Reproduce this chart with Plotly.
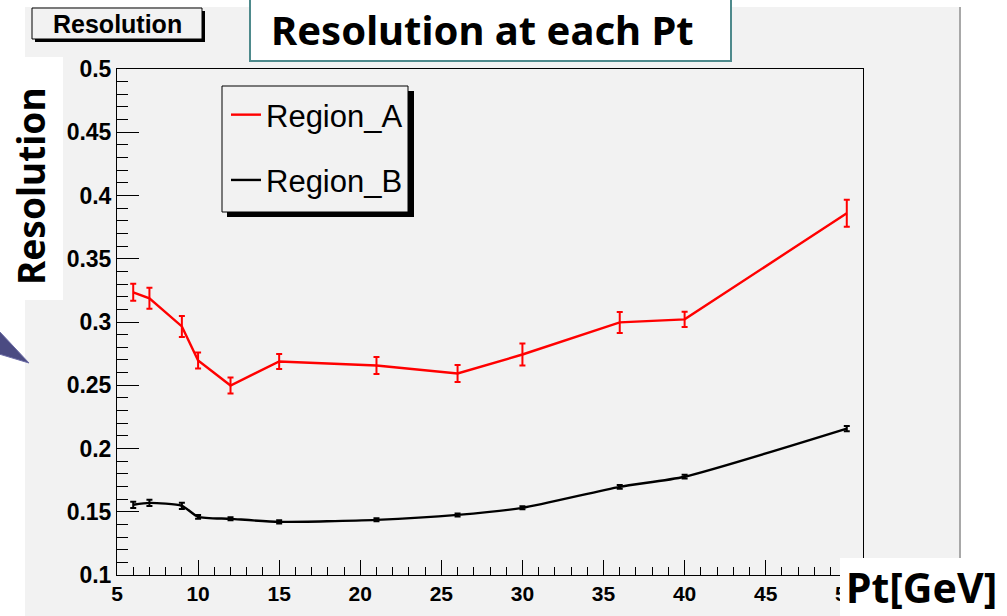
import plotly.graph_objects as go

# Pt bin centres [GeV]
pt = [6, 7, 9, 10, 12, 15, 21, 26, 30, 36, 40, 50]

# Region A resolution and its uncertainty
res_a = [0.3235, 0.3187, 0.2965, 0.2696, 0.2498, 0.2688, 0.2656, 0.2593, 0.2743, 0.2997, 0.3021, 0.3860]
err_a = [0.0067, 0.0083, 0.0083, 0.0063, 0.0063, 0.0060, 0.0067, 0.0067, 0.0087, 0.0083, 0.0060, 0.0107]

# Region B resolution and its uncertainty
res_b = [0.1555, 0.1570, 0.1547, 0.1460, 0.1444, 0.1420, 0.1436, 0.1475, 0.1531, 0.1697, 0.1777, 0.2157]
err_b = [0.0025, 0.0025, 0.0025, 0.0015, 0.0012, 0.0012, 0.0012, 0.0012, 0.0012, 0.0015, 0.0015, 0.0020]

# Axis ticks
x_ticks = [5, 10, 15, 20, 25, 30, 35, 40, 45, 50]
x_labels = ["5", "10", "15", "20", "25", "30", "35", "40", "45", "50"]
y_ticks = [0.1, 0.15, 0.2, 0.25, 0.3, 0.35, 0.4, 0.45, 0.5]
y_labels = ["0.1", "0.15", "0.2", "0.25", "0.3", "0.35", "0.4", "0.45", "0.5"]

W, H = 1007, 616
L, R, T, B = 117, 863, 69, 575          # frame edges in pixels


def fx(p):
    return (p - L) / (R - L)


def fy(p):
    return (B - p) / (B - T)


CANVAS = "#f2f2f2"
ROOT_FONT = "Liberation Sans, Arial, sans-serif"
SLIDE_FONT = "Noto Sans, Open Sans, sans-serif"

fig = go.Figure()

fig.add_trace(go.Scatter(
    x=pt, y=res_a, mode="lines", name="Region_A",
    line=dict(color="#ff0000", width=2.4),
    error_y=dict(type="data", array=err_a, color="#ff0000", thickness=2, width=3),
    legendgroup="a",
))
fig.add_trace(go.Scatter(
    x=pt, y=res_b, mode="lines", name="Region_B",
    line=dict(color="#000000", width=2.4, shape="spline", smoothing=0.6),
    error_y=dict(type="data", array=err_b, color="#000000", thickness=2, width=3),
    legendgroup="b",
))


def rect(x0, y0, x1, y1, fill, line=None, layer="above"):
    return dict(type="rect", xref="paper", yref="paper", layer=layer,
                x0=fx(x0), x1=fx(x1), y0=fy(y0), y1=fy(y1),
                fillcolor=fill, line=line or dict(width=0))


shapes = [
    # ROOT canvas
    rect(25, 7, 960, H + 2, CANVAS, layer="below"),
    dict(type="line", xref="paper", yref="paper", layer="below",
         x0=fx(960), x1=fx(960), y0=fy(7), y1=fy(H + 2),
         line=dict(color="#a8a8a8", width=2)),
    # white label panel on the left
    rect(-2, 57, 63, 300, "white", layer="below"),
    # callout pointer
    dict(type="path", xref="paper", yref="paper", layer="above",
         path=f"M {fx(-1)} {fy(331)} L {fx(29)} {fy(363)} L {fx(-1)} {fy(354)} Z",
         fillcolor="#4b4b82", line=dict(color="#6b6ba5", width=1)),
    # ROOT histogram title box with shadow
    rect(35, 11, 205, 42, "black"),
    rect(32, 8, 202, 39, CANVAS, dict(color="black", width=1)),
    # slide title box
    rect(250, -3, 731, 61, "white", dict(color="#4e8a8c", width=2)),
    # legend box with shadow
    rect(227, 91, 414, 217, "black"),
    rect(222, 86, 408, 212, CANVAS, dict(color="black", width=1)),
    # x-axis label panel
    rect(840, 558, W + 2, H + 2, "white"),
]

annotations = [
    dict(text="<b>Resolution</b>", xref="paper", yref="paper",
         x=fx(117), y=fy(24), xanchor="center", yanchor="middle", showarrow=False,
         font=dict(family=ROOT_FONT, size=25, color="black")),
    dict(text="<b>Resolution at each Pt</b>", xref="paper", yref="paper",
         x=fx(482), y=fy(29), xanchor="center", yanchor="middle", showarrow=False,
         font=dict(family=SLIDE_FONT, size=40, color="black")),
    dict(text="<b>Resolution</b>", xref="paper", yref="paper",
         x=fx(30), y=fy(187), xanchor="center", yanchor="middle",
         showarrow=False, textangle=-90,
         font=dict(family=SLIDE_FONT, size=37, color="black")),
    dict(text="<b>Pt[GeV]</b>", xref="paper", yref="paper",
         x=fx(921), y=fy(587), xanchor="center", yanchor="middle", showarrow=False,
         font=dict(family=SLIDE_FONT, size=41, color="black")),
]

fig.update_layout(
    width=W, height=H,
    margin=dict(l=L, r=W - R, t=T, b=H - B, pad=0),
    paper_bgcolor="white",
    plot_bgcolor=CANVAS,
    showlegend=True,
    legend=dict(
        x=fx(226), y=fy(88), xanchor="left", yanchor="top",
        bgcolor="rgba(0,0,0,0)", borderwidth=0,
        font=dict(family=ROOT_FONT, size=31, color="black"),
        tracegroupgap=22, itemwidth=30,
    ),
    shapes=shapes,
    annotations=annotations,
)

fig.update_xaxes(
    range=[5, 51], showgrid=False, zeroline=False,
    showline=True, linecolor="black", linewidth=1, mirror=True,
    ticks="inside", ticklen=15, tickwidth=1, tickcolor="black",
    tickvals=x_ticks, ticktext=x_labels,
    tickfont=dict(family=ROOT_FONT, size=21, color="black", weight="bold"),
    minor=dict(ticks="inside", ticklen=8, tickwidth=1, tickcolor="black",
               dtick=1, tick0=5, showgrid=False),
)
fig.update_yaxes(
    range=[0.1, 0.5], showgrid=False, zeroline=False,
    showline=True, linecolor="black", linewidth=1, mirror=True,
    ticks="inside", ticklen=22, tickwidth=1, tickcolor="black",
    tickvals=y_ticks, ticktext=y_labels,
    tickfont=dict(family=ROOT_FONT, size=23, color="black", weight="bold"),
    minor=dict(ticks="inside", ticklen=11, tickwidth=1, tickcolor="black",
               dtick=0.01, tick0=0.1, showgrid=False),
)

fig.write_html("out.html")
